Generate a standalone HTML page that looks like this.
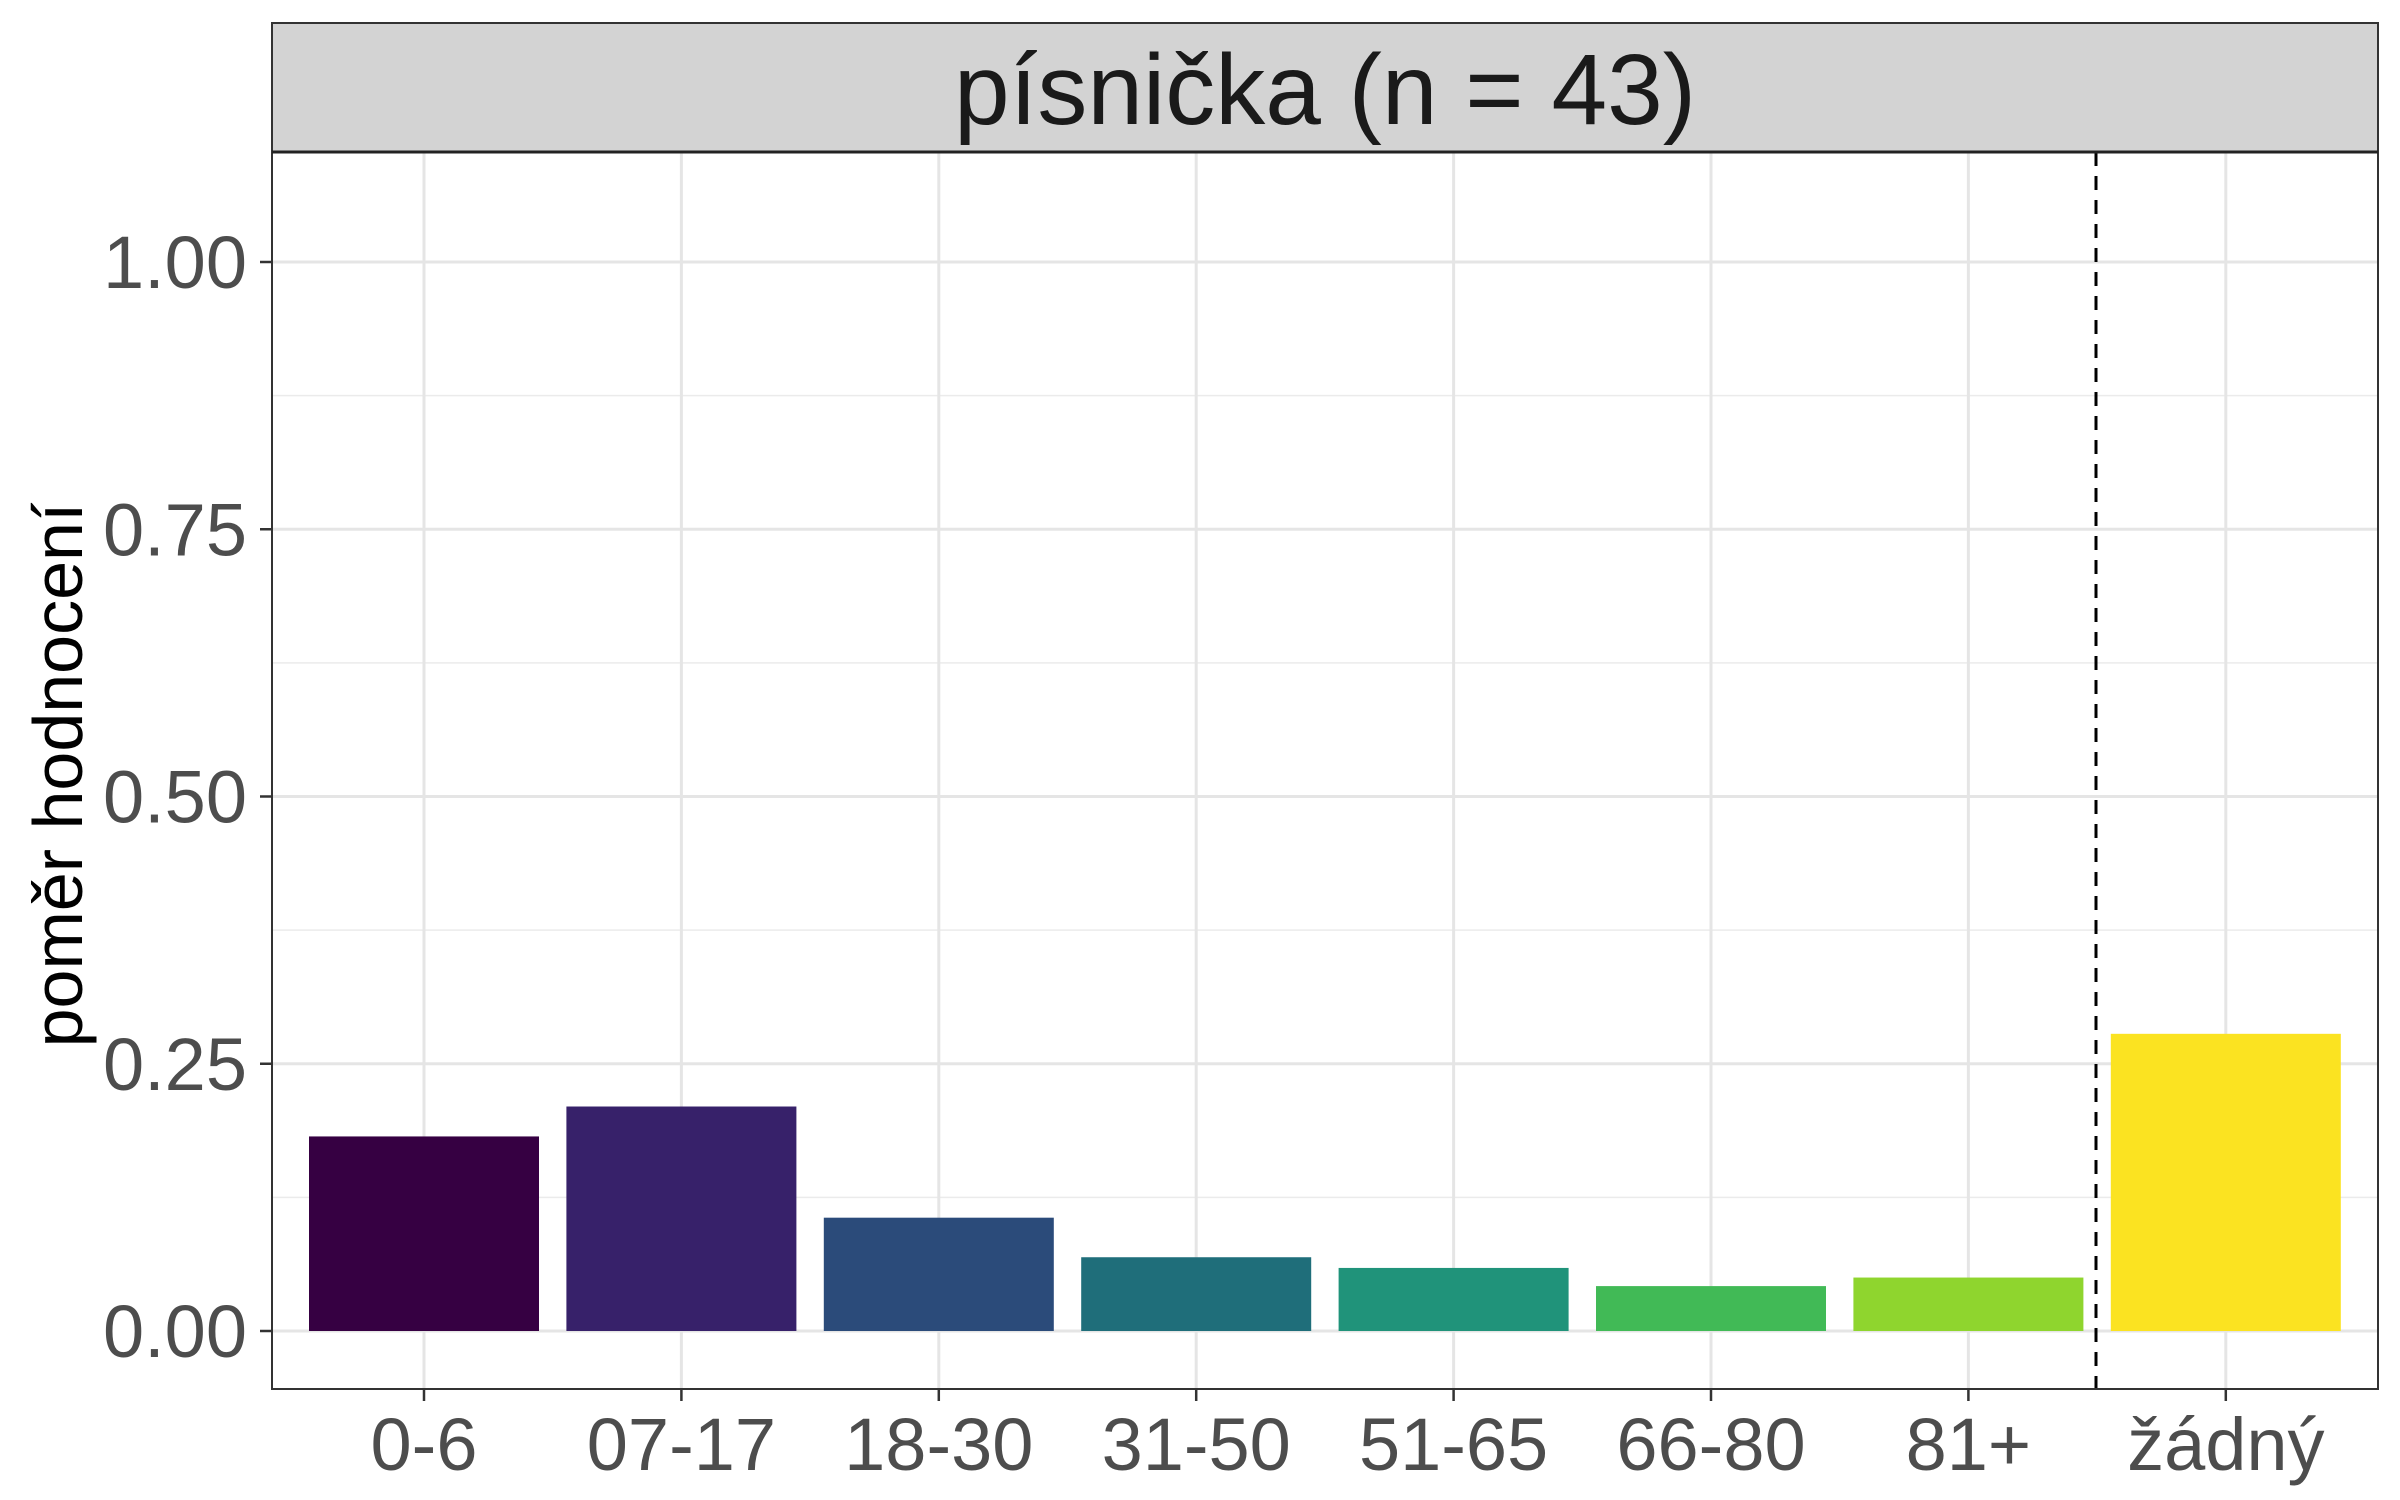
<!DOCTYPE html>
<html><head><meta charset="utf-8"><style>
html,body{margin:0;padding:0;background:#fff;}
svg{display:block;font-family:"Liberation Sans",Arial,sans-serif;}
</style></head><body>
<svg id="chart" width="2400" height="1500" viewBox="0 0 2400 1500">
<rect x="0" y="0" width="2400" height="1500" fill="#fff"/>
<g id="grid"></g>
<g id="bars"></g>
<line x1="2096" y1="152" x2="2096" y2="1389" stroke="#000" stroke-width="3" stroke-dasharray="14,10"/>
<rect x="272" y="23" width="2106" height="1366" fill="none" stroke="#333" stroke-width="2"/>
<rect x="272" y="23" width="2106" height="129" fill="#d3d3d3" stroke="#333" stroke-width="2"/>
<line x1="272" y1="152" x2="2378" y2="152" stroke="#222" stroke-width="3"/>
<text x="1325" y="124" font-size="100" text-anchor="middle" fill="#1a1a1a">písnička (n = 43)</text>
<g id="yaxis"></g>
<g id="xaxis"></g>
<text transform="translate(82,775) rotate(-90)" font-size="70" text-anchor="middle" fill="#000">poměr hodnocení</text>
</svg>
<script>
const categories = ["0-6","07-17","18-30","31-50","51-65","66-80","81+","žádný"];
const values = [0.182,0.210,0.106,0.069,0.059,0.042,0.050,0.278];
const colors = ["#360042","#37216a","#2b4b7a","#1f6e7a","#20937a","#41ba56","#8fd52e","#fbe321"];
const yTicks = [0,0.25,0.5,0.75,1.0];
const yTickLabels = ["0.00","0.25","0.50","0.75","1.00"];
const yMinor = [0.125,0.375,0.625,0.875];

const NS="http://www.w3.org/2000/svg";
const y = v => 1331 - v*1069;
const x = i => 424 + i*257.4;
const bw = 230;
function mk(tag, attrs, parent){const e=document.createElementNS(NS,tag);for(const k in attrs)e.setAttribute(k,attrs[k]);parent.appendChild(e);return e;}
const grid=document.getElementById('grid'), bars=document.getElementById('bars'), ya=document.getElementById('yaxis'), xa=document.getElementById('xaxis');
yMinor.forEach(v=>{const l=mk('line',{x1:272,x2:2378,y1:y(v),y2:y(v),stroke:'#ebebeb','stroke-width':1.5},grid);

});
yTicks.forEach((v,i)=>{const l=mk('line',{x1:272,x2:2378,y1:y(v),y2:y(v),stroke:'#e5e5e5','stroke-width':3},grid);


const t=mk('line',{x1:260,x2:272,y1:y(v),y2:y(v),stroke:'#333','stroke-width':2.5},ya);


const tx=mk('text',{x:247,y:y(v)+26,'font-size':74,'text-anchor':'end',fill:'#4d4d4d'},ya);
tx.textContent=yTickLabels[i];

});
categories.forEach((c,i)=>{const g=mk('line',{x1:x(i),x2:x(i),y1:152,y2:1389,stroke:'#e5e5e5','stroke-width':3},grid);


const r=mk('rect',{x:x(i)-bw/2,y:y(values[i]),width:bw,height:y(0)-y(values[i]),fill:colors[i]},bars);


const t=mk('line',{x1:x(i),x2:x(i),y1:1389,y2:1401,stroke:'#333','stroke-width':2.5},xa);


const tx=mk('text',{x:x(i),y:1470,'font-size':74,'text-anchor':'middle',fill:'#4d4d4d'},xa);
tx.textContent=c;

});
</script>
</body></html>
